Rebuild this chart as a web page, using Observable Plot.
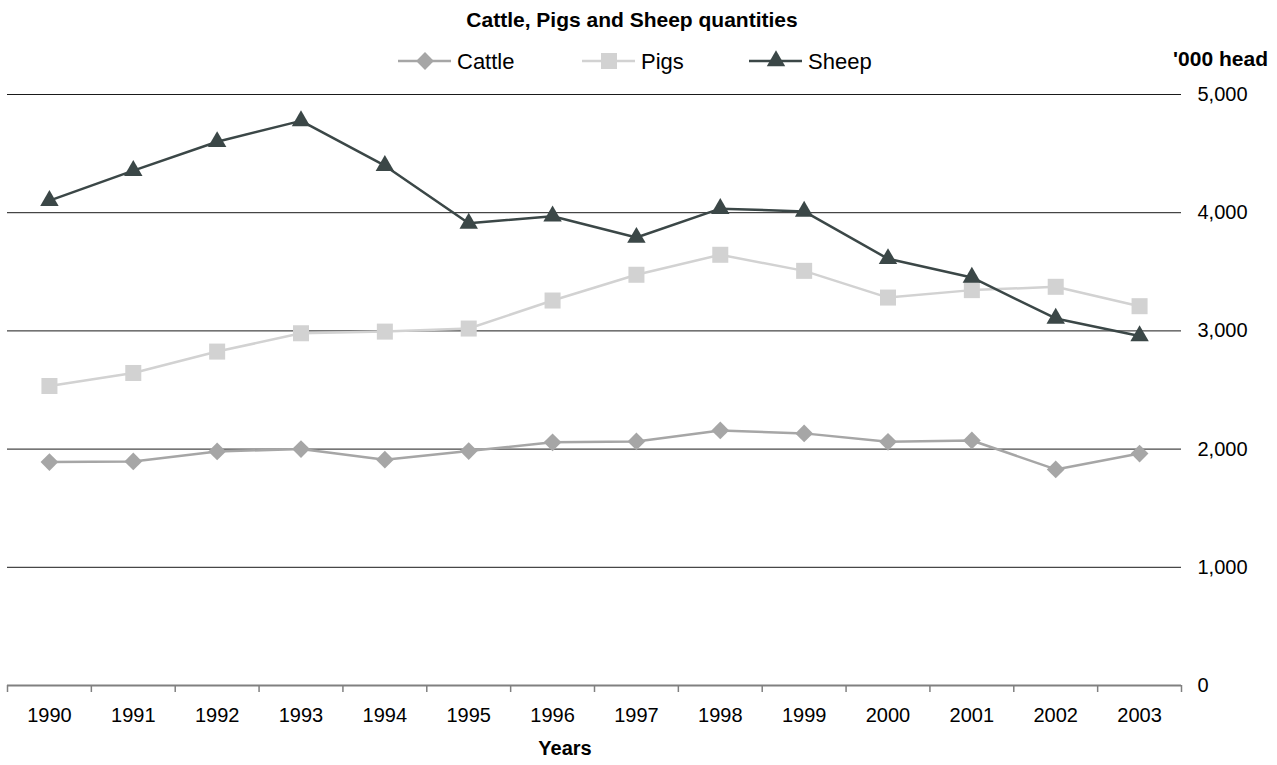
<!DOCTYPE html>
<html><head><meta charset="utf-8">
<script src="https://cdn.jsdelivr.net/npm/d3@7"></script>
<script src="https://cdn.jsdelivr.net/npm/@observablehq/plot@0.6"></script>
<style>
body{margin:0;background:#fff;font-family:"Liberation Sans",Arial,sans-serif;}
#wrap{position:relative;width:1277px;height:765px;overflow:hidden;}
.abs{position:absolute;white-space:nowrap;color:#000;}
#title{left:0;width:1264px;text-align:center;top:8px;font-weight:bold;font-size:21px;}
#unit{right:9px;top:47px;font-weight:bold;font-size:21px;}
#xlabel{left:0;width:1130px;text-align:center;top:737px;font-weight:bold;font-size:20px;}
#legend{left:0;top:44px;width:1277px;height:34px;}
</style></head><body>
<div id="wrap">
  <div id="title" class="abs">Cattle, Pigs and Sheep quantities</div>
  <div id="unit" class="abs">'000 head</div>
  <div id="xlabel" class="abs">Years</div>
  <svg id="legend" class="abs" width="1277" height="34"></svg>
</div>
<script>
const years = [1990,1991,1992,1993,1994,1995,1996,1997,1998,1999,2000,2001,2002,2003];
const cattle = [1890,1896,1980,2000,1910,1983,2057,2065,2158,2133,2062,2073,1828,1962];
const pigs = [2534,2644,2825,2980,2994,3020,3257,3475,3644,3508,3282,3345,3373,3209];
const sheep = [4102,4356,4600,4777,4398,3910,3970,3790,4034,4011,3610,3452,3105,2957];
const seriesNames = ["Cattle","Pigs","Sheep"];
const seriesColors = ["#a6a6a6","#d2d2d2","#3b4747"];
const seriesSymbols = ["diamond2","square2","triangle2"];
const seriesR = [8,10.2,8.8];
const yTicks = [0,1000,2000,3000,4000,5000];

const seriesValues = [cattle, pigs, sheep];
const data = [];
seriesNames.forEach((s,i)=>years.forEach((y,j)=>data.push({series:s, year:y, value:seriesValues[i][j]})));
const halfTicks = years.map(y=>y-0.5).concat([years[years.length-1]+0.5]);

const marks = [
  Plot.ruleY(yTicks.filter(d=>d>0), {stroke:"#1a1a1a", strokeWidth:1}),
  Plot.axisY({anchor:"right", ticks:yTicks, tickSize:0, tickPadding:16, tickFormat:d3.format(","), fontSize:20, label:null}),
  Plot.ruleY([0], {stroke:"#808080", strokeWidth:2}),
  Plot.axisX({ticks:halfTicks, tickSize:7, tickFormat:()=>"", stroke:"#808080", strokeWidth:1.5, label:null}),
  Plot.axisX({ticks:years, tickSize:0, tickPadding:22, tickFormat:d=>String(d), fontSize:20, label:null})
];
seriesNames.forEach((s,i)=>{
  const sub = data.filter(d=>d.series===s);
  marks.push(Plot.line(sub, {x:"year", y:"value", stroke:seriesColors[i], strokeWidth:2.5}));
  marks.push(Plot.dot(sub, {x:"year", y:"value", symbol:seriesSymbols[i], fill:seriesColors[i], r:seriesR[i], stroke:"none"}));
});

const chart = Plot.plot({
  width:1277, height:765,
  marginTop:94, marginBottom:80, marginLeft:7, marginRight:96,
  x:{type:"linear", domain:[1989.5,2003.5]},
  y:{domain:[0,5000]},
  style:{fontFamily:"'Liberation Sans', Arial, sans-serif", color:"#000", background:"transparent"},
  marks
});
chart.style.position="absolute"; chart.style.left="0"; chart.style.top="0";
document.getElementById("wrap").prepend(chart);

// legend
const lg = d3.select("#legend");
const legendX = [398, 582, 749];
const symMap = {diamond2:d3.symbolDiamond2, square2:d3.symbolSquare2, triangle2:d3.symbolTriangle2};
seriesNames.forEach((s,i)=>{
  const g = lg.append("g").attr("transform",`translate(${legendX[i]},17)`);
  g.append("line").attr("x1",0).attr("x2",53).attr("stroke",seriesColors[i]).attr("stroke-width",2.5);
  g.append("path").attr("transform","translate(27,0)").attr("d", d3.symbol(symMap[seriesSymbols[i]], seriesR[i]*seriesR[i]*Math.PI)()).attr("fill",seriesColors[i]);
  g.append("text").attr("x",59).attr("y",0).attr("dy","0.35em").attr("font-size",22).attr("font-family","'Liberation Sans', Arial, sans-serif").text(s);
});
</script>
</body></html>
